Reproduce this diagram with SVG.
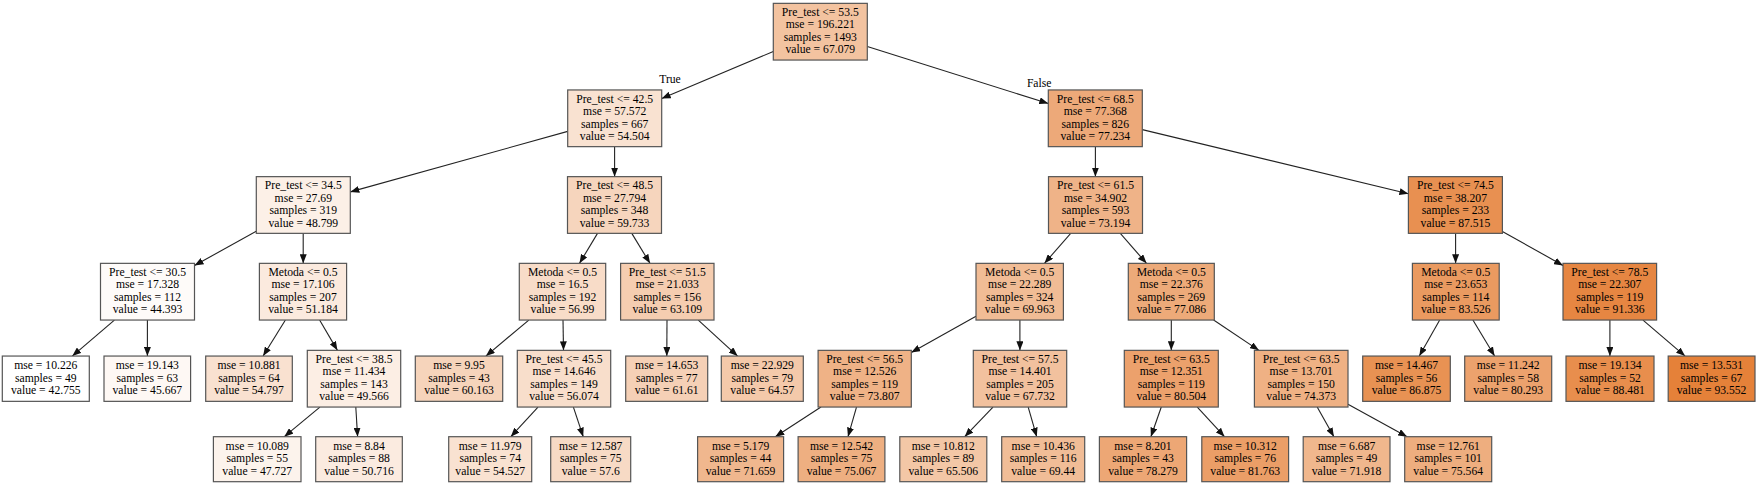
<svg xmlns="http://www.w3.org/2000/svg" width="1757" height="485" viewBox="0 0 1757 485">
<style>
.n rect{stroke:#555;stroke-width:1.2}
text{font-family:"Liberation Serif","Times New Roman",serif;font-size:11.67px;fill:#000;text-anchor:middle}
.e line{stroke:#222;stroke-width:1.1;marker-end:url(#ah)}
</style>
<defs>
<marker id="ah" markerUnits="userSpaceOnUse" markerWidth="9" markerHeight="7" viewBox="0 0 9 7" refX="9" refY="3.5" orient="auto">
<path d="M0,0 L9,3.5 L0,7 z" fill="#111"/>
</marker>
</defs>
<rect width="1757" height="485" fill="#fff"/>
<g class="e" id="edges">
<line x1="773.3" y1="51.5" x2="661.7" y2="98.5"/>
<line x1="867.3" y1="46.5" x2="1048.3" y2="103.5"/>
<line x1="567.7" y1="131.4" x2="350.3" y2="191.9"/>
<line x1="614.6" y1="146.65" x2="614.6" y2="176.65"/>
<line x1="1095.4" y1="146.65" x2="1095.4" y2="176.65"/>
<line x1="1142.3" y1="129.6" x2="1408.4" y2="193.7"/>
<line x1="256.3" y1="231.15" x2="194.5" y2="265.55"/>
<line x1="303.2" y1="233.35" x2="303.2" y2="263.35"/>
<line x1="597.5" y1="233.35" x2="579.5" y2="263.35"/>
<line x1="631.8" y1="233.35" x2="650" y2="263.35"/>
<line x1="1070.7" y1="233.35" x2="1044.5" y2="263.35"/>
<line x1="1120.3" y1="233.35" x2="1146.5" y2="263.35"/>
<line x1="1455.6" y1="233.35" x2="1455.6" y2="263.35"/>
<line x1="1502.4" y1="231.4" x2="1563" y2="265.4"/>
<line x1="114.4" y1="320.05" x2="72.3" y2="356.05"/>
<line x1="147.4" y1="320.05" x2="147.4" y2="356.05"/>
<line x1="285.4" y1="320.05" x2="263.1" y2="356.05"/>
<line x1="319.6" y1="320.05" x2="337.4" y2="350.35"/>
<line x1="528.8" y1="320.05" x2="485.9" y2="356.05"/>
<line x1="563" y1="320.05" x2="563.5" y2="350.35"/>
<line x1="667" y1="320.05" x2="666.8" y2="356.05"/>
<line x1="698.3" y1="320.05" x2="737.6" y2="356.05"/>
<line x1="976" y1="316.2" x2="911.3" y2="352.5"/>
<line x1="1019.9" y1="320.05" x2="1019.9" y2="350.35"/>
<line x1="1171.3" y1="320.05" x2="1171.3" y2="350.35"/>
<line x1="1213.6" y1="320.05" x2="1258.9" y2="350.35"/>
<line x1="1439.7" y1="320.05" x2="1419.3" y2="356.05"/>
<line x1="1472.9" y1="320.05" x2="1494.6" y2="356.05"/>
<line x1="1609.9" y1="320.05" x2="1609.9" y2="356.05"/>
<line x1="1643" y1="320.05" x2="1685.1" y2="356.05"/>
<line x1="319.9" y1="407.05" x2="284.3" y2="436.7"/>
<line x1="355.8" y1="407.05" x2="357.6" y2="436.7"/>
<line x1="538" y1="407.05" x2="510.8" y2="436.7"/>
<line x1="573.4" y1="407.05" x2="583.2" y2="436.7"/>
<line x1="821" y1="407.05" x2="775.3" y2="436.7"/>
<line x1="856.5" y1="407.05" x2="848" y2="436.7"/>
<line x1="993" y1="407.05" x2="964.7" y2="436.7"/>
<line x1="1028.2" y1="407.05" x2="1036.7" y2="436.7"/>
<line x1="1161.3" y1="407.05" x2="1150.9" y2="436.7"/>
<line x1="1197.3" y1="407.05" x2="1224.5" y2="436.7"/>
<line x1="1317.2" y1="407.05" x2="1333.9" y2="436.7"/>
<line x1="1348" y1="404.3" x2="1407.1" y2="436.7"/>
<text x="670" y="82.6">True</text>
<text x="1039.2" y="87.2">False</text>
</g>
<g class="n" id="n0"><rect x="773.3" y="3.35" width="94" height="56.7" fill="#f3c3a0"/><text><tspan x="820.3" y="15.95">Pre_test &lt;= 53.5</tspan><tspan x="820.3" y="28.45">mse = 196.221</tspan><tspan x="820.3" y="40.95">samples = 1493</tspan><tspan x="820.3" y="53.45">value = 67.079</tspan></text></g>
<g class="n" id="n1"><rect x="567.7" y="89.95" width="94" height="56.7" fill="#f9e2d1"/><text><tspan x="614.7" y="102.55">Pre_test &lt;= 42.5</tspan><tspan x="614.7" y="115.05">mse = 57.572</tspan><tspan x="614.7" y="127.55">samples = 667</tspan><tspan x="614.7" y="140.05">value = 54.504</tspan></text></g>
<g class="n" id="n2"><rect x="1048.3" y="89.95" width="94" height="56.7" fill="#eda979"/><text><tspan x="1095.3" y="102.55">Pre_test &lt;= 68.5</tspan><tspan x="1095.3" y="115.05">mse = 77.368</tspan><tspan x="1095.3" y="127.55">samples = 826</tspan><tspan x="1095.3" y="140.05">value = 77.234</tspan></text></g>
<g class="n" id="n3"><rect x="256.3" y="176.65" width="94" height="56.7" fill="#fcf0e7"/><text><tspan x="303.3" y="189.25">Pre_test &lt;= 34.5</tspan><tspan x="303.3" y="201.75">mse = 27.69</tspan><tspan x="303.3" y="214.25">samples = 319</tspan><tspan x="303.3" y="226.75">value = 48.799</tspan></text></g>
<g class="n" id="n4"><rect x="567.5" y="176.65" width="94" height="56.7" fill="#f6d5bd"/><text><tspan x="614.5" y="189.25">Pre_test &lt;= 48.5</tspan><tspan x="614.5" y="201.75">mse = 27.794</tspan><tspan x="614.5" y="214.25">samples = 348</tspan><tspan x="614.5" y="226.75">value = 59.733</tspan></text></g>
<g class="n" id="n5"><rect x="1048.5" y="176.65" width="94" height="56.7" fill="#efb388"/><text><tspan x="1095.5" y="189.25">Pre_test &lt;= 61.5</tspan><tspan x="1095.5" y="201.75">mse = 34.902</tspan><tspan x="1095.5" y="214.25">samples = 593</tspan><tspan x="1095.5" y="226.75">value = 73.194</tspan></text></g>
<g class="n" id="n6"><rect x="1408.4" y="176.65" width="94" height="56.7" fill="#e89051"/><text><tspan x="1455.4" y="189.25">Pre_test &lt;= 74.5</tspan><tspan x="1455.4" y="201.75">mse = 38.207</tspan><tspan x="1455.4" y="214.25">samples = 233</tspan><tspan x="1455.4" y="226.75">value = 87.515</tspan></text></g>
<g class="n" id="n7"><rect x="100.5" y="263.35" width="94" height="56.7" fill="#fefbf9"/><text><tspan x="147.5" y="275.95">Pre_test &lt;= 30.5</tspan><tspan x="147.5" y="288.45">mse = 17.328</tspan><tspan x="147.5" y="300.95">samples = 112</tspan><tspan x="147.5" y="313.45">value = 44.393</tspan></text></g>
<g class="n" id="n8"><rect x="259.4" y="263.35" width="87.2" height="56.7" fill="#fbeade"/><text><tspan x="303" y="275.95">Metoda &lt;= 0.5</tspan><tspan x="303" y="288.45">mse = 17.106</tspan><tspan x="303" y="300.95">samples = 207</tspan><tspan x="303" y="313.45">value = 51.184</tspan></text></g>
<g class="n" id="n9"><rect x="519.3" y="263.35" width="86.4" height="56.7" fill="#f8dcc8"/><text><tspan x="562.5" y="275.95">Metoda &lt;= 0.5</tspan><tspan x="562.5" y="288.45">mse = 16.5</tspan><tspan x="562.5" y="300.95">samples = 192</tspan><tspan x="562.5" y="313.45">value = 56.99</tspan></text></g>
<g class="n" id="n10"><rect x="620.6" y="263.35" width="93.4" height="56.7" fill="#f5cdb0"/><text><tspan x="667.3" y="275.95">Pre_test &lt;= 51.5</tspan><tspan x="667.3" y="288.45">mse = 21.033</tspan><tspan x="667.3" y="300.95">samples = 156</tspan><tspan x="667.3" y="313.45">value = 63.109</tspan></text></g>
<g class="n" id="n11"><rect x="976" y="263.35" width="87.4" height="56.7" fill="#f1bc95"/><text><tspan x="1019.7" y="275.95">Metoda &lt;= 0.5</tspan><tspan x="1019.7" y="288.45">mse = 22.289</tspan><tspan x="1019.7" y="300.95">samples = 324</tspan><tspan x="1019.7" y="313.45">value = 69.963</tspan></text></g>
<g class="n" id="n12"><rect x="1128.3" y="263.35" width="86" height="56.7" fill="#edaa79"/><text><tspan x="1171.3" y="275.95">Metoda &lt;= 0.5</tspan><tspan x="1171.3" y="288.45">mse = 22.376</tspan><tspan x="1171.3" y="300.95">samples = 269</tspan><tspan x="1171.3" y="313.45">value = 77.086</tspan></text></g>
<g class="n" id="n13"><rect x="1412.4" y="263.35" width="86.8" height="56.7" fill="#ea9a60"/><text><tspan x="1455.8" y="275.95">Metoda &lt;= 0.5</tspan><tspan x="1455.8" y="288.45">mse = 23.653</tspan><tspan x="1455.8" y="300.95">samples = 114</tspan><tspan x="1455.8" y="313.45">value = 83.526</tspan></text></g>
<g class="n" id="n14"><rect x="1563" y="263.35" width="93.6" height="56.7" fill="#e68642"/><text><tspan x="1609.8" y="275.95">Pre_test &lt;= 78.5</tspan><tspan x="1609.8" y="288.45">mse = 22.307</tspan><tspan x="1609.8" y="300.95">samples = 119</tspan><tspan x="1609.8" y="313.45">value = 91.336</tspan></text></g>
<g class="n" id="n15"><rect x="2.3" y="356.05" width="87" height="45.3" fill="#ffffff"/><text><tspan x="45.8" y="369.2">mse = 10.226</tspan><tspan x="45.8" y="381.7">samples = 49</tspan><tspan x="45.8" y="394.2">value = 42.755</tspan></text></g>
<g class="n" id="n16"><rect x="104" y="356.05" width="86.6" height="45.3" fill="#fef8f4"/><text><tspan x="147.3" y="369.2">mse = 19.143</tspan><tspan x="147.3" y="381.7">samples = 63</tspan><tspan x="147.3" y="394.2">value = 45.667</tspan></text></g>
<g class="n" id="n17"><rect x="205.7" y="356.05" width="86.6" height="45.3" fill="#f9e1d0"/><text><tspan x="249" y="369.2">mse = 10.881</tspan><tspan x="249" y="381.7">samples = 64</tspan><tspan x="249" y="394.2">value = 54.797</tspan></text></g>
<g class="n" id="n18"><rect x="307.3" y="350.35" width="93.4" height="56.7" fill="#fceee4"/><text><tspan x="354" y="362.95">Pre_test &lt;= 38.5</tspan><tspan x="354" y="375.45">mse = 11.434</tspan><tspan x="354" y="387.95">samples = 143</tspan><tspan x="354" y="400.45">value = 49.566</tspan></text></g>
<g class="n" id="n19"><rect x="415.3" y="356.05" width="87.4" height="45.3" fill="#f6d4bb"/><text><tspan x="459" y="369.2">mse = 9.95</tspan><tspan x="459" y="381.7">samples = 43</tspan><tspan x="459" y="394.2">value = 60.163</tspan></text></g>
<g class="n" id="n20"><rect x="517.3" y="350.35" width="93.4" height="56.7" fill="#f8decb"/><text><tspan x="564" y="362.95">Pre_test &lt;= 45.5</tspan><tspan x="564" y="375.45">mse = 14.646</tspan><tspan x="564" y="387.95">samples = 149</tspan><tspan x="564" y="400.45">value = 56.074</tspan></text></g>
<g class="n" id="n21"><rect x="625.7" y="356.05" width="82" height="45.3" fill="#f5d0b6"/><text><tspan x="666.7" y="369.2">mse = 14.653</tspan><tspan x="666.7" y="381.7">samples = 77</tspan><tspan x="666.7" y="394.2">value = 61.61</tspan></text></g>
<g class="n" id="n22"><rect x="721.3" y="356.05" width="82" height="45.3" fill="#f4c9aa"/><text><tspan x="762.3" y="369.2">mse = 22.929</tspan><tspan x="762.3" y="381.7">samples = 79</tspan><tspan x="762.3" y="394.2">value = 64.57</tspan></text></g>
<g class="n" id="n23"><rect x="818.1" y="350.35" width="93.2" height="56.7" fill="#efb286"/><text><tspan x="864.7" y="362.95">Pre_test &lt;= 56.5</tspan><tspan x="864.7" y="375.45">mse = 12.526</tspan><tspan x="864.7" y="387.95">samples = 119</tspan><tspan x="864.7" y="400.45">value = 73.807</tspan></text></g>
<g class="n" id="n24"><rect x="973.3" y="350.35" width="93.4" height="56.7" fill="#f2c19e"/><text><tspan x="1020" y="362.95">Pre_test &lt;= 57.5</tspan><tspan x="1020" y="375.45">mse = 14.401</tspan><tspan x="1020" y="387.95">samples = 205</tspan><tspan x="1020" y="400.45">value = 67.732</tspan></text></g>
<g class="n" id="n25"><rect x="1124.3" y="350.35" width="94" height="56.7" fill="#eca16c"/><text><tspan x="1171.3" y="362.95">Pre_test &lt;= 63.5</tspan><tspan x="1171.3" y="375.45">mse = 12.351</tspan><tspan x="1171.3" y="387.95">samples = 119</tspan><tspan x="1171.3" y="400.45">value = 80.504</tspan></text></g>
<g class="n" id="n26"><rect x="1254.4" y="350.35" width="93.6" height="56.7" fill="#efb184"/><text><tspan x="1301.2" y="362.95">Pre_test &lt;= 63.5</tspan><tspan x="1301.2" y="375.45">mse = 13.701</tspan><tspan x="1301.2" y="387.95">samples = 150</tspan><tspan x="1301.2" y="400.45">value = 74.373</tspan></text></g>
<g class="n" id="n27"><rect x="1362.7" y="356.05" width="87.6" height="45.3" fill="#e89253"/><text><tspan x="1406.5" y="369.2">mse = 14.467</tspan><tspan x="1406.5" y="381.7">samples = 56</tspan><tspan x="1406.5" y="394.2">value = 86.875</tspan></text></g>
<g class="n" id="n28"><rect x="1464.7" y="356.05" width="87" height="45.3" fill="#eca26d"/><text><tspan x="1508.2" y="369.2">mse = 11.242</tspan><tspan x="1508.2" y="381.7">samples = 58</tspan><tspan x="1508.2" y="394.2">value = 80.293</tspan></text></g>
<g class="n" id="n29"><rect x="1566" y="356.05" width="88" height="45.3" fill="#e88e4d"/><text><tspan x="1610" y="369.2">mse = 19.134</tspan><tspan x="1610" y="381.7">samples = 52</tspan><tspan x="1610" y="394.2">value = 88.481</tspan></text></g>
<g class="n" id="n30"><rect x="1668.2" y="356.05" width="86.8" height="45.3" fill="#e58139"/><text><tspan x="1711.6" y="369.2">mse = 13.531</tspan><tspan x="1711.6" y="381.7">samples = 67</tspan><tspan x="1711.6" y="394.2">value = 93.552</tspan></text></g>
<g class="n" id="n31"><rect x="213.4" y="436.7" width="87.6" height="45" fill="#fcf3ec"/><text><tspan x="257.2" y="449.7">mse = 10.089</tspan><tspan x="257.2" y="462.2">samples = 55</tspan><tspan x="257.2" y="474.7">value = 47.727</tspan></text></g>
<g class="n" id="n32"><rect x="315.7" y="436.7" width="86.6" height="45" fill="#fbebe0"/><text><tspan x="359" y="449.7">mse = 8.84</tspan><tspan x="359" y="462.2">samples = 88</tspan><tspan x="359" y="474.7">value = 50.716</tspan></text></g>
<g class="n" id="n33"><rect x="448.7" y="436.7" width="83" height="45" fill="#f9e2d1"/><text><tspan x="490.2" y="449.7">mse = 11.979</tspan><tspan x="490.2" y="462.2">samples = 74</tspan><tspan x="490.2" y="474.7">value = 54.527</tspan></text></g>
<g class="n" id="n34"><rect x="550.7" y="436.7" width="80" height="45" fill="#f7dac5"/><text><tspan x="590.7" y="449.7">mse = 12.587</tspan><tspan x="590.7" y="462.2">samples = 75</tspan><tspan x="590.7" y="474.7">value = 57.6</tspan></text></g>
<g class="n" id="n35"><rect x="697.6" y="436.7" width="86" height="45" fill="#f0b78e"/><text><tspan x="740.6" y="449.7">mse = 5.179</tspan><tspan x="740.6" y="462.2">samples = 44</tspan><tspan x="740.6" y="474.7">value = 71.659</tspan></text></g>
<g class="n" id="n36"><rect x="798.1" y="436.7" width="86.8" height="45" fill="#eeaf81"/><text><tspan x="841.5" y="449.7">mse = 12.542</tspan><tspan x="841.5" y="462.2">samples = 75</tspan><tspan x="841.5" y="474.7">value = 75.067</tspan></text></g>
<g class="n" id="n37"><rect x="899.8" y="436.7" width="87" height="45" fill="#f3c7a6"/><text><tspan x="943.3" y="449.7">mse = 10.812</tspan><tspan x="943.3" y="462.2">samples = 89</tspan><tspan x="943.3" y="474.7">value = 65.506</tspan></text></g>
<g class="n" id="n38"><rect x="1001.7" y="436.7" width="83" height="45" fill="#f1bd97"/><text><tspan x="1043.2" y="449.7">mse = 10.436</tspan><tspan x="1043.2" y="462.2">samples = 116</tspan><tspan x="1043.2" y="474.7">value = 69.44</tspan></text></g>
<g class="n" id="n39"><rect x="1099.4" y="436.7" width="87.2" height="45" fill="#eda775"/><text><tspan x="1143" y="449.7">mse = 8.201</tspan><tspan x="1143" y="462.2">samples = 43</tspan><tspan x="1143" y="474.7">value = 78.279</tspan></text></g>
<g class="n" id="n40"><rect x="1201.8" y="436.7" width="86.8" height="45" fill="#eb9e67"/><text><tspan x="1245.2" y="449.7">mse = 10.312</tspan><tspan x="1245.2" y="462.2">samples = 76</tspan><tspan x="1245.2" y="474.7">value = 81.763</tspan></text></g>
<g class="n" id="n41"><rect x="1303.2" y="436.7" width="86.8" height="45" fill="#f0b78d"/><text><tspan x="1346.6" y="449.7">mse = 6.687</tspan><tspan x="1346.6" y="462.2">samples = 49</tspan><tspan x="1346.6" y="474.7">value = 71.918</tspan></text></g>
<g class="n" id="n42"><rect x="1404.7" y="436.7" width="87" height="45" fill="#eeae7f"/><text><tspan x="1448.2" y="449.7">mse = 12.761</tspan><tspan x="1448.2" y="462.2">samples = 101</tspan><tspan x="1448.2" y="474.7">value = 75.564</tspan></text></g>
</svg>
